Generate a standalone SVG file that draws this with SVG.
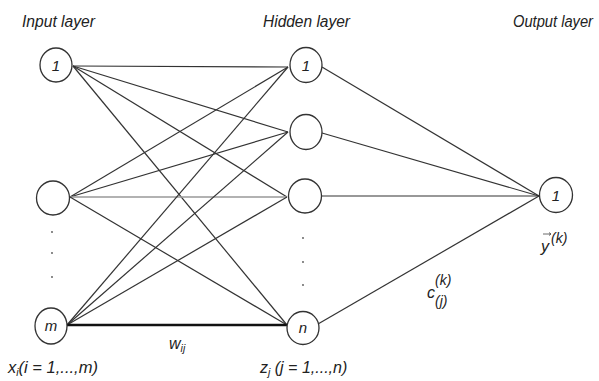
<svg xmlns="http://www.w3.org/2000/svg" width="599" height="381" viewBox="0 0 599 381">
<style>
.t{font-family:"Liberation Sans",Arial,sans-serif;font-style:italic;fill:#222}
.h{font-size:16px}
.n{fill:#fff;stroke:#333;stroke-width:1.3}
.c{stroke:#333;stroke-width:1.2;fill:none}
.d{fill:#555}
</style>
<rect width="599" height="381" fill="#fff"/>
<text class="t h" x="22" y="27" textLength="73" lengthAdjust="spacingAndGlyphs">Input layer</text>
<text class="t h" x="263" y="27" textLength="87" lengthAdjust="spacingAndGlyphs">Hidden layer</text>
<text class="t h" x="513" y="27" textLength="80" lengthAdjust="spacingAndGlyphs">Output layer</text>
<g id="connectors">
<line class="c" x1="73" y1="66" x2="288" y2="67"/>
<line class="c" x1="73" y1="66" x2="288" y2="132"/>
<line class="c" x1="73" y1="66" x2="287" y2="197"/>
<line class="c" x1="73" y1="66" x2="287" y2="325"/>
<line class="c" x1="70" y1="197" x2="288" y2="67"/>
<line class="c" x1="70" y1="197" x2="288" y2="132"/>
<line x1="70" y1="197" x2="287" y2="197" stroke="#999" stroke-width="1.3"/>
<line class="c" x1="70" y1="197" x2="287" y2="325"/>
<line class="c" x1="67" y1="325" x2="288" y2="67"/>
<line class="c" x1="67" y1="325" x2="288" y2="132"/>
<line class="c" x1="67" y1="325" x2="287" y2="197"/>
<line x1="67" y1="325" x2="287" y2="325" stroke="#111" stroke-width="2.6"/>
<line class="c" x1="322" y1="67" x2="539" y2="196"/>
<line class="c" x1="322" y1="133" x2="539" y2="196"/>
<line class="c" x1="321" y1="196" x2="539" y2="196" stroke-width="1.6"/>
<line class="c" x1="318" y1="324" x2="539" y2="196"/>
</g>
<g id="in1"><ellipse class="n" cx="56" cy="65" rx="16" ry="17"/><text class="t" x="56" y="71" font-size="15" text-anchor="middle">1</text></g>
<g id="in2"><ellipse class="n" cx="53" cy="198" rx="16.5" ry="17"/></g>
<g id="inm"><ellipse class="n" cx="51" cy="326" rx="16" ry="18"/><text class="t" x="51" y="331" font-size="15" text-anchor="middle">m</text></g>
<g id="indots"><circle class="d" cx="52" cy="232" r="0.9"/><circle class="d" cx="52" cy="253" r="0.9"/><circle class="d" cx="52" cy="277" r="0.9"/></g>
<g id="h1"><ellipse class="n" cx="306" cy="65" rx="16" ry="17.5"/><text class="t" x="306" y="71" font-size="15" text-anchor="middle">1</text></g>
<g id="h2"><ellipse class="n" cx="306" cy="132" rx="16" ry="17.5"/></g>
<g id="h3"><ellipse class="n" cx="305" cy="196" rx="16.5" ry="17"/></g>
<g id="hn"><ellipse class="n" cx="303" cy="328" rx="16" ry="16.5"/><text class="t" x="303" y="333" font-size="15" text-anchor="middle">n</text></g>
<g id="hdots"><circle class="d" cx="303" cy="238" r="0.9"/><circle class="d" cx="303" cy="262" r="0.9"/><circle class="d" cx="303" cy="285" r="0.9"/></g>
<g id="out1"><ellipse class="n" cx="556" cy="195" rx="16.5" ry="17.5"/><text class="t" x="556" y="201" font-size="15" text-anchor="middle">1</text></g>
<g id="labels">
<text class="t" x="8" y="373" font-size="16.5">x<tspan font-size="10.5" dy="3">i</tspan><tspan dy="-3">(i = 1,...,m)</tspan></text>
<text class="t" x="260" y="373" font-size="16">z<tspan font-size="10.5" dy="3">j</tspan><tspan dy="-3"> (j = 1,...,n)</tspan></text>
<text class="t" x="169" y="349" font-size="16">w<tspan font-size="10.5" dy="3">ij</tspan></text>
<text class="t" x="427" y="298" font-size="16">c</text>
<text class="t" x="435" y="285" font-size="14">(k)</text>
<text class="t" x="435" y="306" font-size="14">(j)</text>
<text class="t" x="541" y="252" font-size="16">y</text>
<path d="M543 234 H551 M549 232.5 L551 234 L549 235.5" stroke="#444" stroke-width="0.8" fill="none"/>
<text class="t" x="551" y="243" font-size="14">(k)</text>
</g>
</svg>
